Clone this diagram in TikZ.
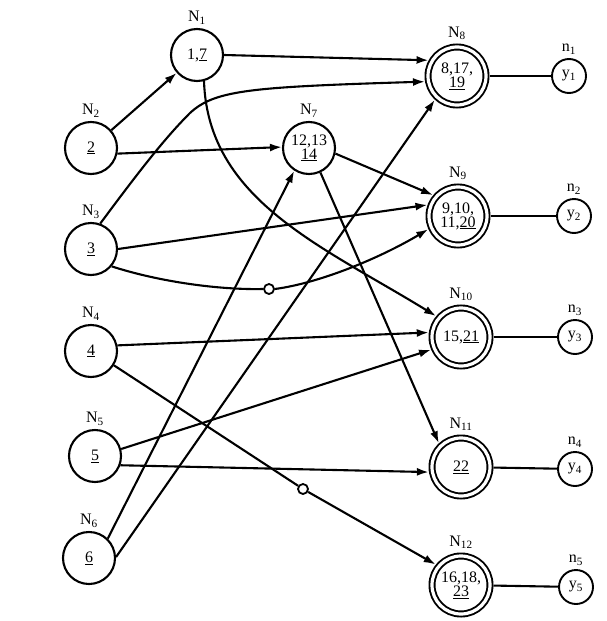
\documentclass[tikz,border=0pt]{standalone}
\usepackage{fontspec}
\setmainfont{Liberation Serif}
\usetikzlibrary{arrows.meta}
\begin{document}
\begin{tikzpicture}[x=1pt,y=-1pt,
  every node/.style={font=\fontsize{16}{14}\selectfont},
  st/.style={circle,draw,line width=2.1pt,minimum size=52pt,inner sep=0pt,align=center},
  fin/.style={circle,draw,line width=1.9pt,double,double distance=3.2pt,minimum size=58pt,inner sep=0pt,outer sep=3.5pt,align=center},
  yn/.style={circle,draw,line width=1.9pt,minimum size=34pt,inner sep=0pt},
  neg/.style={circle,draw,line width=1.8pt,minimum size=10pt,inner sep=0pt,fill=white},
  arr/.style={line width=2.1pt,-{Latex[length=12pt,width=8pt]}},
  ln/.style={line width=2.1pt}
]
\useasboundingbox (0,0) rectangle (606,621);
% source nodes
\node[st,label=above:N\textsubscript{1}] (n1) at (197,55) {1,\underline{7}};
\node[st,label=above:N\textsubscript{2}] (n2) at (91,148) {\underline{2}};
\node[st,label=above:N\textsubscript{3}] (n3) at (91,249) {\underline{3}};
\node[st,label=above:N\textsubscript{4}] (n4) at (91,351) {\underline{4}};
\node[st,label=above:N\textsubscript{5}] (n5) at (95,456) {\underline{5}};
\node[st,label=above:N\textsubscript{6}] (n6) at (89,558) {\underline{6}};
\node[st,label=above:N\textsubscript{7}] (n7) at (309,148) {12,13\\\underline{14}};
% final nodes
\node[fin,label=above:N\textsubscript{8}] (n8) at (457,76) {8,17,\\\underline{19}};
\node[fin,label=above:N\textsubscript{9}] (n9) at (458,216) {9,10,\\11,\underline{20}};
\node[fin,label=above:N\textsubscript{10}] (n10) at (461,337) {15,\underline{21}};
\node[fin,label=above:N\textsubscript{11}] (n11) at (461,467) {\underline{22}};
\node[fin,label=above:N\textsubscript{12}] (n12) at (461,585) {16,18,\\\underline{23}};
% outputs
\node[yn,label=above:n\textsubscript{1}] (y1) at (569,76) {y\textsubscript{1}};
\node[yn,label=above:n\textsubscript{2}] (y2) at (574,216) {y\textsubscript{2}};
\node[yn,label=above:n\textsubscript{3}] (y3) at (575,337) {y\textsubscript{3}};
\node[yn,label=above:n\textsubscript{4}] (y4) at (575,469) {y\textsubscript{4}};
\node[yn,label=above:n\textsubscript{5}] (y5) at (576,587) {y\textsubscript{5}};
% negation circles
\node[neg] (c1) at (269,289) {};
\node[neg] (c2) at (303,489) {};
% connectors
\draw[arr] (n2) -- (n1);
\draw[arr] (n1.east) -- (n8.151);
\draw[arr] (n3.70) .. controls (140,170) and (165,138) .. (190,113)
                   .. controls (215,90) and (250,87) .. (n8.190);
\draw[arr] (n1.-75) .. controls (208,200) and (322,246) .. (n10.140);
\draw[arr] (n2.-12) -- (n7.178);
\draw[arr] (n7.-12) -- (n9.140);
\draw[arr] (n7.-65) -- (n11.133);
\draw[arr] (n3.east) -- (n9.160);
\draw[ln] (n3.-40) .. controls (160,282) and (220,290) .. (c1.west);
\draw[arr] (c1.east) .. controls (320,283) and (380,258) .. (n9.204);
\draw[arr] (n4.12) -- (n10.172);
\draw[ln] (n4.-32) -- (c2);
\draw[arr] (c2) -- (n12.141);
\draw[arr] (n5.15) -- (n10.203);
\draw[arr] (n5.-20) -- (n11.189);
\draw[arr] (n6.46) -- (n7.237);
\draw[arr] (n6.2) -- (n8.227);
\draw[ln] (n8) -- (y1);
\draw[ln] (n9) -- (y2);
\draw[ln] (n10) -- (y3);
\draw[ln] (n11) -- (y4);
\draw[ln] (n12) -- (y5);
\end{tikzpicture}
\end{document}
